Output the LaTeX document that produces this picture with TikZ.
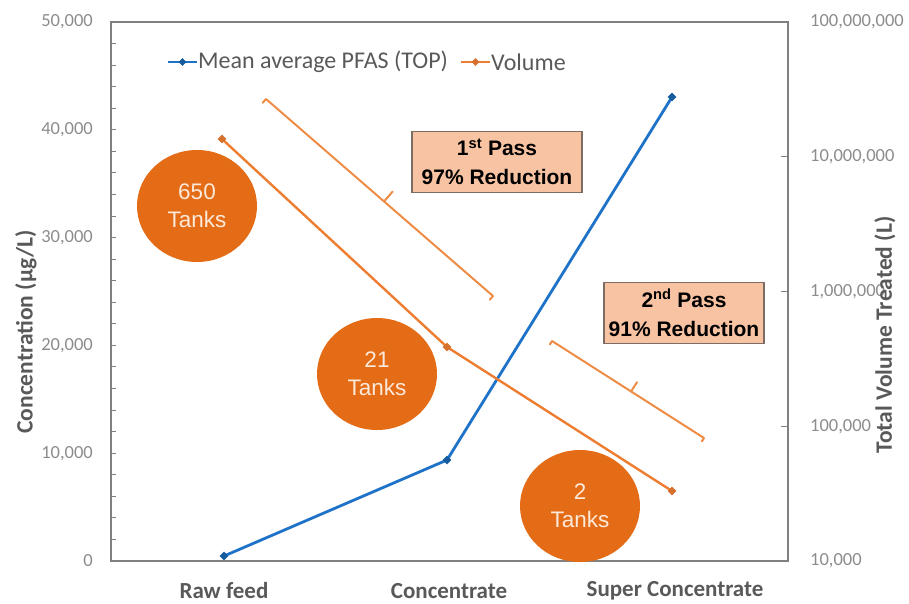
\documentclass[tikz,border=0pt]{standalone}
\usepackage{fontspec}
\setmainfont{Carlito}
\newfontfamily\arialfont{Liberation Sans}
\usetikzlibrary{shapes.geometric,calc}

\definecolor{framegray}{RGB}{128,128,128}
\definecolor{labgray}{RGB}{140,140,140}
\definecolor{titlegray}{RGB}{89,89,89}
\definecolor{pfasblue}{RGB}{30,115,200}
\definecolor{volorange}{RGB}{237,125,49}
\definecolor{tankorange}{RGB}{228,108,22}
\definecolor{tanktext}{RGB}{253,233,217}
\definecolor{passfill}{RGB}{248,195,162}
\definecolor{passdraw}{RGB}{125,110,100}
\definecolor{bracketorange}{RGB}{238,140,70}

\tikzset{
  ticklab/.style={font=\fontsize{18.5}{18.5}\selectfont, text=labgray, inner sep=0pt},
  axtitle/.style={font=\fontsize{23.5}{23.5}\selectfont\bfseries, text=titlegray, inner sep=0pt},
  catlab/.style={font=\fontsize{23}{23}\selectfont\bfseries, text=titlegray, inner sep=0pt},
  legtext/.style={font=\fontsize{24}{24}\selectfont, text=titlegray, inner sep=0pt, anchor=west},
  pfasline/.style={pfasblue, line width=2.8pt},
  volline/.style={volorange, line width=2.4pt},
  pfasmark/.style={diamond, fill=pfasblue!80!black, inner sep=0pt, minimum size=9pt},
  volmark/.style={diamond, fill=volorange!90!black, inner sep=0pt, minimum size=9pt},
  tank/.style={ellipse, fill=tankorange, text=tanktext, minimum width=120pt, minimum height=112pt,
    inner sep=0pt, align=center, font=\arialfont\fontsize{22.5}{28}\selectfont},
  passbox/.style={draw=passdraw, line width=1.2pt, fill=passfill, minimum height=61pt, inner sep=0pt,
    align=center, font=\arialfont\bfseries\fontsize{21}{29}\selectfont},
  bracket/.style={bracketorange, line width=2pt, line cap=round, line join=round}
}

\begin{document}
\begin{tikzpicture}[x=1pt,y=-1pt]
\useasboundingbox (0,0) rectangle (909,603);

% plot area
\draw[framegray, line width=1.5pt] (111,22) rectangle (788,561);
% left axis: minor ticks and labels
\foreach \i in {1,...,24}
  \draw[framegray, line width=1pt] (111,{561-\i*21.56}) -- ++(5,0);
\foreach \k/\lab in {0/0,1/{10,000},2/{20,000},3/{30,000},4/{40,000},5/{50,000}}
  \node[ticklab, anchor=east] (cl\k) at (93,{561-\k*107.8}) {\lab};
% right axis: decade ticks and labels
\foreach \k/\lab in {0/{10,000},1/{100,000},2/{1,000,000},3/{10,000,000},4/{100,000,000}}{
  \draw[framegray, line width=1.2pt] (788,{561-\k*134.75}) -- ++(-7,0);
  \node[ticklab, anchor=west] (vl\k) at (810,{561-\k*134.75}) {\lab};
}
% axis titles
\node[axtitle, rotate=90] (ctitle) at (26,332) {Concentration (µg/L)};
\node[axtitle, rotate=90] (vtitle) at (885,335) {Total Volume Treated (L)};
% categories
\node[catlab] (raw) at (224,591) {Raw feed};
\node[catlab] (conc) at (449,591) {Concentrate};
\node[catlab] (super) at (675,591) {Super Concentrate};

% tanks
\node[tank] (t650) at (197,206) {650\\Tanks};
\node[tank] (t21) at (377,374) {21\\Tanks};
\node[tank] (t2) at (580,506) {2\\Tanks};

% series: mean average PFAS
\coordinate (pf1) at (224,556);
\coordinate (pf2) at (447,460);
\coordinate (pf3) at (672,97);
\draw[pfasline] (pf1) -- (pf2) -- (pf3);
\foreach \p in {1,2,3}
  \node[pfasmark] (pfm\p) at (pf\p) {};
% series: volume
\coordinate (vo1) at (222,139);
\coordinate (vo2) at (447,347);
\coordinate (vo3) at (672,491);
\draw[volline] (vo1) -- (vo2) -- (vo3);
\foreach \p in {1,2,3}
  \node[volmark] (vom\p) at (vo\p) {};

% legend
\coordinate (lga) at (168,62);
\coordinate (lgb) at (197,62);
\draw[pfasblue, line width=2.4pt] (lga) -- (lgb);
\node[pfasmark, minimum size=8pt] (lgm1) at ($(lga)!0.5!(lgb)$) {};
\node[legtext] (lgt1) at (198,62) {Mean average PFAS (TOP)};
\coordinate (lgc) at (461,62);
\coordinate (lgd) at (490,62);
\draw[volorange, line width=2.4pt] (lgc) -- (lgd);
\node[volmark, minimum size=8pt] (lgm2) at ($(lgc)!0.5!(lgd)$) {};
\node[legtext] (lgt2) at (491,62) {Volume};

% passes
\node[passbox, minimum width=170pt] (pass1) at (497,162) {1\textsuperscript{st} Pass\\97\% Reduction};
\node[passbox, minimum width=160pt] (pass2) at (684,313) {2\textsuperscript{nd} Pass\\91\% Reduction};

\coordinate (b1s) at (266,99);
\coordinate (b1e) at (493,296);
\coordinate (b1m) at ($(b1s)!0.52!(b1e)$);
\draw[bracket] ($(b1s)!5pt!-90:(b1e)$) -- (b1s) -- (b1e) -- ($(b1e)!5pt!90:(b1s)$);
\draw[bracket] (b1m) -- ($(b1m)!13pt!90:(b1e)$);
\coordinate (b2s) at (552,341);
\coordinate (b2e) at (704,438);
\coordinate (b2m) at ($(b2s)!0.52!(b2e)$);
\draw[bracket] ($(b2s)!4pt!-90:(b2e)$) -- (b2s) -- (b2e) -- ($(b2e)!4pt!90:(b2s)$);
\draw[bracket] (b2m) -- ($(b2m)!11pt!90:(b2e)$);
\end{tikzpicture}
\end{document}
